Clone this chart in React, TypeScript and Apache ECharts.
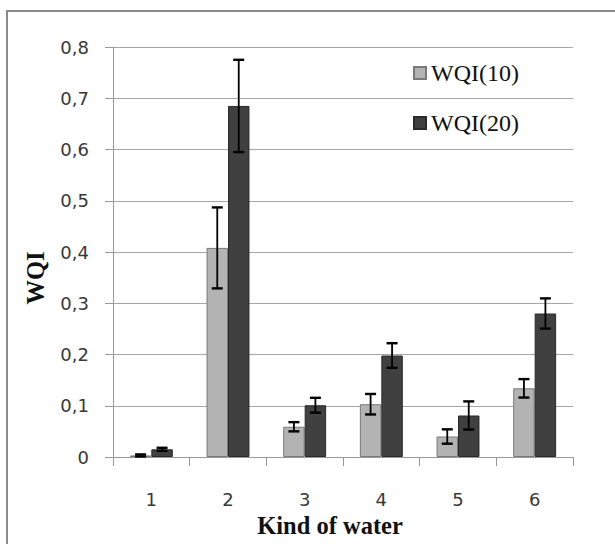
import React, { useEffect, useRef } from "react";
import * as echarts from "echarts";

const categories = ["1", "2", "3", "4", "5", "6"];
const wqi10 = [0.003, 0.408, 0.059, 0.103, 0.04, 0.134];
const wqi10Err = [0.002, 0.079, 0.009, 0.02, 0.014, 0.018];
const wqi20 = [0.015, 0.685, 0.101, 0.198, 0.081, 0.28];
const wqi20Err = [0.003, 0.09, 0.0145, 0.024, 0.0275, 0.0295];
const yTicks = [0, 0.1, 0.2, 0.3, 0.4, 0.5, 0.6, 0.7, 0.8];

const CAT_GAP = 0.44;

function errData(vals: number[], errs: number[]) {
  return vals.map((v, i) => [i, v - errs[i], v + errs[i]]);
}

function makeErrRender(side: number) {
  return (params: any, api: any) => {
    const x = api.value(0);
    const lo = api.coord([x, api.value(1)]);
    const hi = api.coord([x, api.value(2)]);
    const band = api.size([1, 0])[0];
    const barW = (band * (1 - CAT_GAP)) / 2;
    const cx = lo[0] + side * barW / 2;
    const half = 5.5;
    const style = { stroke: "#000", lineWidth: 2.4 };
    return {
      type: "group",
      children: [
        { type: "line", shape: { x1: cx, y1: lo[1], x2: cx, y2: hi[1] }, style: { stroke: "#000", lineWidth: 1.8 } },
        { type: "line", shape: { x1: cx - half, y1: hi[1], x2: cx + half, y2: hi[1] }, style },
        { type: "line", shape: { x1: cx - half, y1: lo[1], x2: cx + half, y2: lo[1] }, style },
      ],
    };
  };
}

export default function App() {
  const ref = useRef<HTMLDivElement>(null);
  useEffect(() => {
    if (!ref.current) return;
    const chart = echarts.init(ref.current, null, { renderer: "svg" });
    chart.setOption({
      animation: false,
      backgroundColor: "#fff",
      grid: { left: 113, right: 42, top: 47, bottom: 87 },
      legend: {
        orient: "vertical",
        left: 413,
        top: 61,
        padding: 0,
        itemWidth: 12,
        itemHeight: 12,
        itemGap: 26,
        icon: "rect",
        data: ["WQI(10)", "WQI(20)"],
        textStyle: {
          fontFamily: "Liberation Serif",
          fontSize: 24,
          lineHeight: 24,
          color: "#111",
        },
      },
      xAxis: {
        type: "category",
        data: categories,
        axisLine: { show: true, lineStyle: { color: "#999", width: 1 } },
        axisTick: { show: true, length: 9, lineStyle: { color: "#999" }, alignWithLabel: false },
        axisLabel: {
          fontFamily: "DejaVu Sans",
          fontSize: 18,
          color: "#383838",
          margin: 33,
        },
      },
      yAxis: {
        type: "value",
        min: 0,
        max: 0.8,
        interval: 0.1,
        axisLine: { show: true, lineStyle: { color: "#999", width: 1 } },
        axisTick: { show: true, inside: false, length: 8, lineStyle: { color: "#999" } },
        splitLine: { show: true, lineStyle: { color: "#a6a6a6", width: 1 } },
        axisLabel: {
          fontFamily: "DejaVu Sans",
          fontSize: 18,
          color: "#383838",
          margin: 24,
          formatter: (v: number) => {
            const t = yTicks.find((k) => Math.abs(k - v) < 1e-9);
            const val = t === undefined ? v : t;
            return val === 0 ? "0" : val.toFixed(1).replace(".", ",");
          },
        },
      },
      series: [
        {
          name: "WQI(10)",
          type: "bar",
          data: wqi10,
          barGap: "0%",
          barCategoryGap: CAT_GAP * 100 + "%",
          itemStyle: { color: "#b3b3b3", borderColor: "#7a7a7a", borderWidth: 1 },
        },
        {
          name: "WQI(20)",
          type: "bar",
          data: wqi20,
          barGap: "0%",
          barCategoryGap: CAT_GAP * 100 + "%",
          itemStyle: { color: "#404040", borderColor: "#2a2a2a", borderWidth: 1 },
        },
        {
          name: "err10",
          type: "custom",
          data: errData(wqi10, wqi10Err),
          renderItem: makeErrRender(-1),
          z: 10,
          silent: true,
        },
        {
          name: "err20",
          type: "custom",
          data: errData(wqi20, wqi20Err),
          renderItem: makeErrRender(1),
          z: 10,
          silent: true,
        },
      ],
      graphic: [
        {
          type: "rect",
          shape: { x: 7, y: 11, width: 700, height: 700 },
          style: { fill: "none", stroke: "#8a8a8a", lineWidth: 2 },
          silent: true,
        },
        {
          type: "text",
          x: 35,
          y: 278,
          rotation: Math.PI / 2,
          style: {
            text: "WQI",
            fontFamily: "Liberation Serif",
            fontWeight: "bold",
            fontSize: 24.5,
            fill: "#111",
            align: "center",
            verticalAlign: "middle",
          },
        },
        {
          type: "text",
          x: 330,
          y: 525,
          style: {
            text: "Kind of water",
            fontFamily: "Liberation Serif",
            fontWeight: "bold",
            fontSize: 24.5,
            fill: "#111",
            align: "center",
            verticalAlign: "middle",
          },
        },
      ],
    });
    return () => chart.dispose();
  }, []);
  return (
    <div
      ref={ref}
      style={{ position: "fixed", left: 0, top: 0, width: 615, height: 544 }}
    />
  );
}
